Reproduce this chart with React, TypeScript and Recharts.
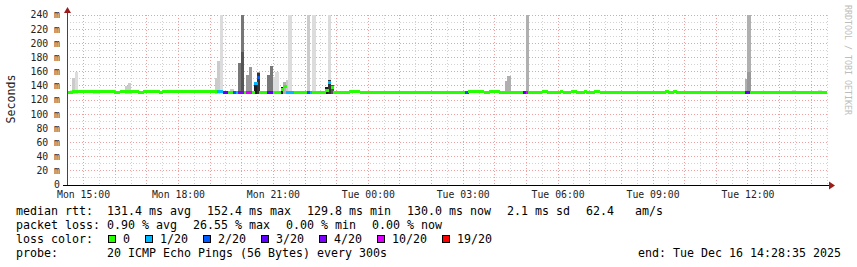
import { Bar, CartesianGrid, ComposedChart, XAxis, YAxis } from "recharts";

const MONO = '"DejaVu Sans Mono", "Liberation Mono", monospace';

// x axis in hours since Mon 00:00, one rrd step = 300 s
const START_H = 14 + 28 / 60 + 35 / 3600; // Mon 14:28:35
const STEPS_PER_H = 12;
const X_DOMAIN: [number, number] = [START_H, 38.53];
const X_TICKS = [15, 18, 21, 24, 27, 30, 33, 36];
const Y_TICKS = [0, 20, 40, 60, 80, 100, 120, 140, 160, 180, 200, 220, 240];

// median rtt per step (ms), 24 steps = 2 h per row
const MEDIAN = [
  131, 131, 132, 132, 132, 132, 132.5, 132, 132, 132, 131.5, 131.5, 132, 132, 132, 132, 132, 132, 131, 131, 132, 132, 132, 132,
  132, 132, 132, 131, 131, 132, 132, 132, 132, 132, 132, 131, 132, 132, 132, 132, 132, 132, 132, 132, 132, 132, 132.5, 132,
  132, 132, 132, 132, 132, 132.5, 132, 132, 132, 131.5, 131.5, 130, 130, 130, 130, 130, 130, 130, 130, 130, 130, 130, 130, 144,
  152.4, 130, 130, 130, 130, 130, 130, 130, 130, 135, 139, 130, 130, 130, 130, 130, 130, 130, 130, 130, 130, 130, 130, 130,
  130, 130, 133, 145, 137, 131, 131, 131, 131, 131, 131, 131.5, 131.5, 131.5, 131.5, 131, 131, 131, 131, 131, 131, 131, 131, 131,
  131, 131, 131, 131, 131, 131, 131, 131, 130.5, 131, 131, 131, 131, 131, 131, 131, 131, 131, 130.5, 131, 131, 131, 131, 131,
  131, 131, 131, 131, 131, 131, 131, 131, 131.5, 131.5, 131.5, 131.5, 131.5, 131.5, 131, 131, 131.5, 131.5, 131.5, 131.5, 131, 130, 131, 131,
  131, 131, 131, 131, 130, 131, 130, 131, 131, 131, 130, 131, 132, 132, 131, 131, 131, 131, 130, 132, 131, 131, 131, 132,
  132, 130, 130, 131, 132, 130, 131, 131, 132, 132, 130, 131, 131, 131, 130, 130, 130, 131, 131, 130, 131, 131, 131, 131,
  131, 131, 131, 131, 131, 131, 131, 131, 131, 131, 131, 132, 131, 131, 132, 130, 130, 130, 131, 131, 130, 130, 131, 131,
  130, 131, 131, 131, 131, 131, 130, 130, 130, 130, 130, 130, 130, 130, 130, 130, 130, 130, 130, 130, 130, 130, 130, 130,
  130, 130, 130, 130, 130, 130, 130, 130, 130, 130, 130, 130, 130, 130, 130, 130, 130, 130, 130, 130, 130, 130, 130, 130,
];

// [step, lost pings of 20]
const LOSS: [number, number][] = [
  [57, 1], [58, 1], [59, 3], [60, 3], [63, 2], [64, 1], [65, 4], [66, 4], [68, 10], [69, 10],
  [71, 1], [72, 2], [76, 3], [77, 3], [83, 1], [84, 1], [85, 1], [91, 2], [92, 1], [99, 1],
  [151, 2], [173, 3], [174, 10], [257, 3], [258, 3],
];

// smoke: [step, lowest ping, [[upper edge, shade], ...]]
const SMOKE: [number, number, [number, number][]][] = [
  [1, 129, [[134, 1]]],
  [2, 129, [[151, 2]]],
  [3, 129, [[159, 1]]],
  [10, 129, [[134, 1]]],
  [11, 129, [[134, 1]]],
  [22, 129, [[140, 2]]],
  [23, 129, [[144, 2]]],
  [56, 129, [[151, 2]]],
  [57, 129, [[175, 2]]],
  [58, 129, [[250, 1]]],
  [61, 128, [[133, 2]]],
  [62, 128, [[136, 2]]],
  [65, 128, [[172, 5]]],
  [66, 128, [[188, 6], [250, 5]]],
  [68, 128, [[155, 4]]],
  [69, 128, [[167, 4]]],
  [71, 128, [[146, 8]]],
  [72, 128, [[158, 7], [160, 4]]],
  [76, 128, [[155, 5]]],
  [77, 128, [[168, 5]]],
  [78, 128, [[153, 1]]],
  [79, 128, [[160, 1]]],
  [81, 128, [[138, 8]]],
  [82, 128, [[145, 3]]],
  [83, 128, [[148, 2]]],
  [84, 128, [[250, 1]]],
  [91, 128, [[250, 2]]],
  [93, 128, [[250, 1]]],
  [98, 128, [[139, 8]]],
  [99, 128, [[148, 7], [250, 1]]],
  [100, 128, [[141, 6]]],
  [164, 129, [[133, 1]]],
  [166, 129, [[147, 3]]],
  [167, 129, [[154, 3]]],
  [174, 128, [[250, 3]]],
  [257, 128, [[150, 3]]],
  [258, 128, [[160, 4], [250, 3]]],
  [275, 129, [[134, 1]]],
  [285, 129, [[134, 1]]],
];

const RTT_STATS = ["131.4 ms avg", "152.4 ms max", "129.8 ms min", "130.0 ms now", "2.1 ms sd", "62.4   am/s"];
const LOSS_STATS = ["0.90 % avg", "26.55 % max", "0.00 % min", "0.00 % now"];
const LOSS_LEGEND: [number, string][] = [[0, "0"], [1, "1/20"], [2, "2/20"], [3, "3/20"], [4, "4/20"], [10, "10/20"], [19, "19/20"]];
const PROBE = "20 ICMP Echo Pings (56 Bytes) every 300s";
const END_TEXT = "end: Tue Dec 16 14:28:35 2025";

const LOSS_COLORS: Record<number, string> = {
  0: "#26ff00",
  1: "#00b8ff",
  2: "#0059ff",
  3: "#5e00ff",
  4: "#7e00ff",
  10: "#dd00ff",
  19: "#ff0000",
};
const SHADES = ["none", "#dcdcdc", "#cbcbcb", "#b0b0b0", "#999999", "#777777", "#555555", "#333333", "#1c1c1c"];

const lossMap = new Map(LOSS);
const smokeMap = new Map(SMOKE.map((s) => [s[0], s]));

const rows = MEDIAN.map((med, i) => {
  const row: Record<string, unknown> = {
    t: START_H + (i + 0.5) / STEPS_PER_H,
    med,
    color: LOSS_COLORS[lossMap.get(i) ?? 0],
  };
  const sm = smokeMap.get(i);
  if (sm) {
    row.base = sm[1];
    let prev = sm[1];
    sm[2].forEach(([top, shade], k) => {
      row[`s${k}`] = top - prev;
      row[`c${k}`] = SHADES[shade];
      prev = top;
    });
  }
  return row;
});

const MINOR_X = Array.from({ length: 25 }, (_, k) => 14.5 + k);
const MAJOR_X = Array.from({ length: 24 }, (_, k) => 15 + k);
const MINOR_Y = Array.from({ length: 12 }, (_, k) => 10 + k * 20);
const MAJOR_Y = Y_TICKS.slice(1);

function toPx(axis: any) {
  const s = axis?.scale;
  if (!s) return () => NaN;
  return typeof s === "function" ? (v: number) => s(v) : (v: number) => s.map(v);
}

function fmtTime(v: number) {
  const day = v < 24 ? "Mon" : "Tue";
  return `${day} ${String(v % 24).padStart(2, "0")}:00`;
}

function smokeShape(k: number) {
  return (p: any) => {
    const fill = p.payload?.[`c${k}`];
    if (!fill || !p.height || !Number.isFinite(p.height)) return <g />;
    return <rect x={p.x} y={p.y} width={p.width + 0.4} height={p.height} fill={fill} shapeRendering="crispEdges" />;
  };
}

function MedianShape(p: any) {
  if (!Number.isFinite(p.y)) return <g />;
  return <rect x={p.x} y={p.y - 1.5} width={p.width + 0.4} height={3} fill={p.payload.color} shapeRendering="crispEdges" />;
}

const tickStyle = { fontSize: 9.8, fontFamily: MONO, fill: "#222" };

function Overlay() {
  const CH = 7;
  const GAP = 16;
  const rttX: number[] = [];
  RTT_STATS.reduce((x, s) => (rttX.push(x), x + s.length * CH + GAP), 107);
  const lossX: number[] = [];
  LOSS_STATS.reduce((x, s) => (lossX.push(x), x + s.length * CH + GAP), 107);
  const boxX: number[] = [];
  LOSS_LEGEND.reduce((x, [, s]) => (boxX.push(x), x + 15 + s.length * CH + 15), 108);
  return (
    <svg
      width={857}
      height={267}
      xmlSpace="preserve"
      style={{ position: "absolute", left: 0, top: 0, pointerEvents: "none" }}
      fontFamily={MONO}
    >
      <line x1={67.5} y1={186} x2={67.5} y2={12} stroke="#444" />
      <polygon points="64,13 71,13 67.5,7" fill="#9b1c1c" />
      <line x1={63} y1={185.5} x2={830} y2={185.5} stroke="#000" />
      <polygon points="829,181.5 829,189.5 835,185.5" fill="#9b1c1c" />
      <text x={15} y={99} transform="rotate(-90 15 99)" textAnchor="middle" fontSize={11.6} fill="#222">
        Seconds
      </text>
      <text x={844.5} y={5} transform="rotate(90 844.5 5)" fontSize={8.3} fill="#bdbdbd">
        RRDTOOL / TOBI OETIKER
      </text>
      <g fontSize={11.63} fill="#000">
        <text x={16} y={215}>median rtt:</text>
        {RTT_STATS.map((s, i) => (
          <text key={s} x={rttX[i]} y={215} style={{ whiteSpace: "pre" }}>{s}</text>
        ))}
        <text x={16} y={229}>packet loss:</text>
        {LOSS_STATS.map((s, i) => (
          <text key={s} x={lossX[i]} y={229}>{s}</text>
        ))}
        <text x={16} y={243}>loss color:</text>
        {LOSS_LEGEND.map(([lv, s], i) => (
          <g key={s}>
            <rect x={boxX[i] + 0.5} y={235.5} width={7} height={7} fill={LOSS_COLORS[lv]} stroke="#000" />
            <text x={boxX[i] + 15} y={243}>{s}</text>
          </g>
        ))}
        <text x={16} y={256.7}>probe:</text>
        <text x={107} y={256.7}>{PROBE}</text>
        <text x={638} y={256.7}>{END_TEXT}</text>
      </g>
    </svg>
  );
}

export default function App() {
  return (
    <div style={{ position: "relative", width: 857, height: 267, background: "#fff" }}>
      <style>{`body{margin:0} .recharts-cartesian-grid line{shape-rendering:crispEdges}`}</style>
      <ComposedChart
        width={857}
        height={267}
        data={rows}
        margin={{ top: 15, right: 29, bottom: 62, left: 7 }}
        barCategoryGap={0}
        barGap={0}
      >
        <CartesianGrid
          stroke="#d2d2d2"
          strokeDasharray="1 2"
          horizontalCoordinatesGenerator={({ yAxis }: any) => MINOR_Y.map(toPx(yAxis))}
          verticalCoordinatesGenerator={({ xAxis }: any) => MINOR_X.filter((v) => v % 1 !== 0).map(toPx(xAxis))}
        />
        <CartesianGrid
          stroke="#eea0a0"
          strokeDasharray="1 2"
          horizontalCoordinatesGenerator={({ yAxis }: any) => MAJOR_Y.map(toPx(yAxis))}
          verticalCoordinatesGenerator={({ xAxis }: any) => MAJOR_X.map(toPx(xAxis))}
        />
        <XAxis
          dataKey="t"
          type="number"
          domain={X_DOMAIN}
          allowDataOverflow
          ticks={X_TICKS}
          interval={0}
          tickFormatter={fmtTime}
          axisLine={false}
          tickLine={false}
          tickSize={0}
          tickMargin={6}
          height={20}
          tick={tickStyle}
        />
        <XAxis xAxisId="m" dataKey="t" type="number" domain={X_DOMAIN} allowDataOverflow hide />
        <YAxis
          type="number"
          domain={[0, 240]}
          ticks={Y_TICKS}
          interval={0}
          allowDataOverflow
          axisLine={false}
          tickLine={false}
          tickSize={5}
          tickMargin={2}
          width={60}
          tickFormatter={(v: number) => (v === 0 ? "0" : `${v} m`)}
          tick={tickStyle}
        />
        <Bar dataKey="base" stackId="s" fill="none" isAnimationActive={false} />
        <Bar dataKey="s0" stackId="s" shape={smokeShape(0)} isAnimationActive={false} />
        <Bar dataKey="s1" stackId="s" shape={smokeShape(1)} isAnimationActive={false} />
        <Bar xAxisId="m" dataKey="med" shape={MedianShape} isAnimationActive={false} />
      </ComposedChart>
      <Overlay />
    </div>
  );
}
